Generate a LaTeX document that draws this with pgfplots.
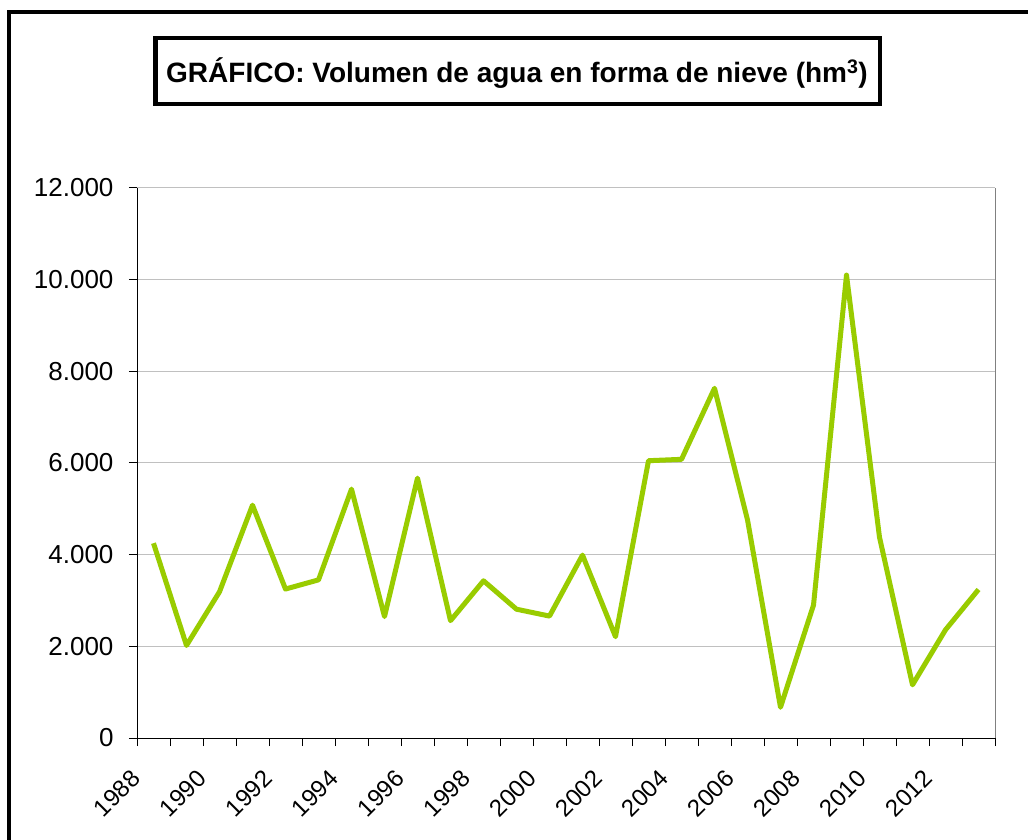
\documentclass[border=0pt]{standalone}
\usepackage{pgfplots}
\pgfplotsset{compat=1.18}
\usepackage{fontspec}
\setmainfont{Liberation Sans}
\definecolor{lineg}{HTML}{99CC00}
\definecolor{gridg}{HTML}{C0C0C0}
\pgfplotstableread{
x val
0 4250
1 2020
2 3190
3 5080
4 3250
5 3450
6 5430
7 2650
8 5670
9 2560
10 3430
11 2810
12 2660
13 3990
14 2210
15 6050
16 6080
17 7630
18 4760
19 670
20 2900
21 10100
22 4380
23 1160
24 2360
25 3240
}\datatable
\begin{document}
\begin{tikzpicture}[x=1pt,y=1pt]
\path[use as bounding box] (0,0) rectangle (1028,839);
\fill[white] (0,0) rectangle (1028,839);
\draw[line width=4pt] (9,-20) -- (9,826.5) -- (1050,826.5);
\draw[line width=4.5pt,fill=white] (155.5,735) rectangle (880,801);
\node[font=\bfseries\fontsize{28}{32}\selectfont] at (517,766) {GRÁFICO: Volumen de agua en forma de nieve (hm\textsuperscript{3})};
\begin{axis}[
  at={(137pt,101pt)}, anchor=south west,
  scale only axis, width=858pt, height=550pt,
  xmin=-0.5, xmax=25.5, ymin=0, ymax=12000,
  axis x line*=bottom, axis y line*=left,
  axis line style={black, line width=1pt},
  ytick={0,2000,...,12000},
  ymajorgrids, grid style={gridg, line width=1pt},
  xtick={0,2,...,24},
  xticklabels={1988,1990,1992,1994,1996,1998,2000,2002,2004,2006,2008,2010,2012},
  minor xtick={-0.5,0.5,...,25.5},
  major x tick style={draw=none},
  minor tick length=8pt, major tick length=8pt,
  tick align=outside,
  tick style={black, line width=1pt},
  scaled y ticks=false,
  /pgf/number format/.cd, 1000 sep={.}, assume math mode=true,
  /pgfplots/.cd,
  yticklabel style={font=\fontsize{26}{30}\selectfont, xshift=-12pt},
  xticklabel style={font=\fontsize{24}{28}\selectfont, xshift=-36.5pt, yshift=-47.5pt, rotate=45, anchor=center},
  clip=false,
]
\addplot[lineg, line width=5pt, line join=round] table[x=x,y=val] {\datatable};
\draw[gray, line width=1pt] (rel axis cs:1,0) -- (rel axis cs:1,1);
\end{axis}
\end{tikzpicture}
\end{document}
